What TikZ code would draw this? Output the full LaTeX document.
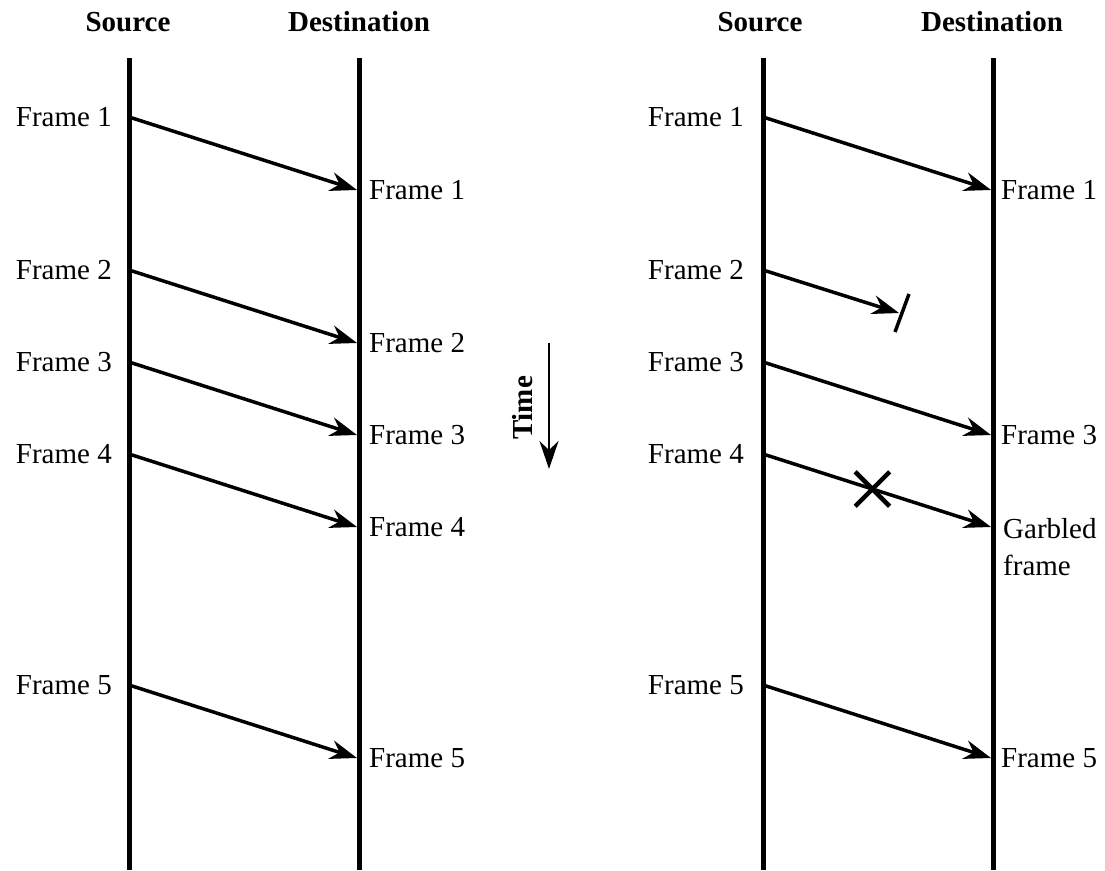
\documentclass[tikz,border=0pt]{standalone}
\usepackage{fontspec}
\setmainfont{Liberation Serif}
\usetikzlibrary{arrows.meta}
\usetikzlibrary{shapes}
\usetikzlibrary{positioning}
\tikzset{wire/.style={draw,line width=5pt}}
\tikzset{tran/.style={draw,line width=3.5pt,-{Stealth[length=27pt,width=19pt]}}}
\tikzstyle{lbl}=[inner sep=0pt,font=\fontsize{29}{37}\selectfont]
\tikzstyle{head}=[inner sep=0pt,font=\fontsize{29}{35}\selectfont\bfseries]

\begin{document}
\begin{tikzpicture}[x=1pt,y=-1pt]
\useasboundingbox (0,0) rectangle (1105,870);

% left side: every frame gets through
\node[head] (src) at (128,22) {Source};
\node[head] (dst) at (359,22) {Destination};
\coordinate (srctop) at (129,58);
\coordinate (srcbot) at (129,870);
\coordinate (dsttop) at (359,58);
\coordinate (dstbot) at (359,870);
\draw[wire] (srctop) -- (srcbot);
\draw[wire] (dsttop) -- (dstbot);

\foreach \i/\y in {1/117,2/270,3/362,4/454,5/685}{
\coordinate (s\i) at (129,\y);
\coordinate (d\i) at (357,\y+73);
\node[lbl, left=17pt of s\i] (ls\i) {Frame \i};
\node[lbl, right=12pt of d\i] (ld\i) {Frame \i};
\draw[tran] (s\i) -- (d\i);
}

% time axis
\coordinate (ttop) at (549,343);
\coordinate (tbot) at (549,469);
\draw[draw,line width=2.6pt,-{Stealth[length=28pt,width=19pt]}] (ttop) -- (tbot);
\node[head, rotate=90] (time) at (523,408) {Time};

% right side: frame 2 lost, frame 4 garbled
\node[head] (rsrc) at (760,22) {Source};
\node[head] (rdst) at (992,22) {Destination};
\coordinate (rsrctop) at (763,58);
\coordinate (rsrcbot) at (763,870);
\coordinate (rdsttop) at (993,58);
\coordinate (rdstbot) at (993,870);
\draw[wire] (rsrctop) -- (rsrcbot);
\draw[wire] (rdsttop) -- (rdstbot);

\foreach \i/\y in {1/117,2/270,3/362,4/454,5/685}{
\coordinate (rs\i) at (763,\y);
\node[lbl, left=19pt of rs\i] (rls\i) {Frame \i};
}
\coordinate (rd1) at (991,190);
\coordinate (lost) at (899,313);
\coordinate (rd3) at (991,435);
\coordinate (rd4) at (991,527);
\coordinate (rd5) at (991,758);

\node[lbl, right=10pt of rd1] (rld1) {Frame 1};
\node[lbl, right=10pt of rd3] (rld3) {Frame 3};
\node[lbl, right=10pt of rd5] (rld5) {Frame 5};
\node[lbl, anchor=north west, align=left] (rld4) at (1003,518) {Garbled\\frame};

\draw[tran] (rs1) -- (rd1);
\draw[tran] (rs2) -- (lost);
\draw[line width=3.5pt] ([shift={(10,-19)}]lost) -- ([shift={(-4,19)}]lost);
\draw[tran] (rs3) -- (rd3);
\draw[tran] (rs4) -- node[-, cross out, draw, line width=4.5pt, minimum size=30pt,
inner sep=0pt, pos=0.48] (garble) {} (rd4);
\draw[tran] (rs5) -- (rd5);
\end{tikzpicture}
\end{document}
